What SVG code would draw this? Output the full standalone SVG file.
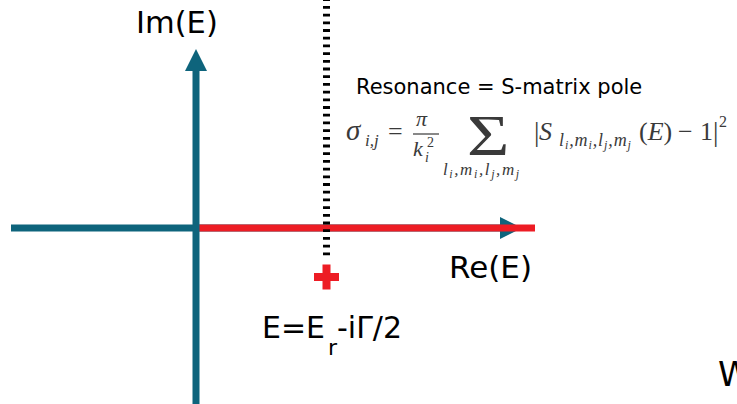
<svg xmlns="http://www.w3.org/2000/svg" width="737" height="404" viewBox="0 0 737 404">
<style>
.lbl{font-family:"DejaVu Sans",sans-serif;fill:#000}
.m{font-family:"Liberation Serif",serif;fill:#3a3a3a}
.mi{font-family:"Liberation Serif",serif;font-style:italic;fill:#3a3a3a}
</style>
<rect width="737" height="404" fill="#fff"/>
<g id="connectors">
<line id="re-axis" x1="11" y1="228" x2="505" y2="228" stroke="#0e647c" stroke-width="7"/>
<polygon id="re-arrow" points="500,217 522,228 500,239" fill="#0e647c"/>
<line id="real-line" x1="199" y1="228" x2="535" y2="228" stroke="#ed1c24" stroke-width="7"/>
<line id="im-axis" x1="196" y1="404" x2="196" y2="68" stroke="#0e647c" stroke-width="7"/>
<polygon id="im-arrow" points="196,49 185,71 207,71" fill="#0e647c"/>
<line id="dotted" x1="326.5" y1="0" x2="326.5" y2="257" stroke="#000" stroke-width="7" stroke-dasharray="2.8 4.9" stroke-dashoffset="1.7"/>
</g>
<g id="pole">
<rect x="314" y="273" width="25" height="8" fill="#ed1c24"/>
<rect x="322.5" y="264.5" width="8" height="25" fill="#ed1c24"/>
</g>
<g id="labels">
<text class="lbl" x="136" y="33" font-size="30.5">Im(E)</text>
<text class="lbl" x="449" y="278" font-size="31">Re(E)</text>
<text class="lbl" x="262" y="338" font-size="30">E=E<tspan x="328" dy="17" font-size="22">r</tspan><tspan dy="-17" x="337">-iΓ/2</tspan></text>
<text class="lbl" x="356" y="94" font-size="21">Resonance = S-matrix pole</text>
<text class="lbl" x="718" y="386" font-size="34">W</text>
</g>
<g id="formula">
<text class="mi" x="346" y="140" font-size="29">σ</text>
<text class="mi" x="365" y="146" font-size="17">i,j</text>
<text class="m" x="388" y="140" font-size="26">=</text>
<text class="mi" x="416" y="126" font-size="22">π</text>
<line x1="413" y1="134" x2="439" y2="134" stroke="#3a3a3a" stroke-width="1.2"/>
<text class="mi" x="413" y="156" font-size="22">k</text>
<text class="mi" x="425" y="162" font-size="14">i</text>
<text class="m" x="427" y="147" font-size="14">2</text>
<text class="m" x="0" y="0" font-size="56" transform="translate(467,155) scale(1.3,1)">Σ</text>
<text class="mi" x="443" y="175" font-size="17" letter-spacing="1.6">l<tspan font-size="12" dy="3">i</tspan><tspan dy="-3">,m</tspan><tspan font-size="12" dy="3">i</tspan><tspan dy="-3">,l</tspan><tspan font-size="12" dy="3">j</tspan><tspan dy="-3">,m</tspan><tspan font-size="12" dy="3">j</tspan></text>
<text class="m" x="534" y="141" font-size="27">|</text>
<text class="mi" x="539" y="140" font-size="26">S</text>
<text class="mi" x="559" y="146" font-size="18" letter-spacing="0.9">l<tspan font-size="12" dy="3">i</tspan><tspan dy="-3">,m</tspan><tspan font-size="12" dy="3">i</tspan><tspan dy="-3">,l</tspan><tspan font-size="12" dy="3">j</tspan><tspan dy="-3">,m</tspan><tspan font-size="12" dy="3">j</tspan></text>
<text class="m" x="639" y="140" font-size="26">(<tspan font-style="italic">E</tspan>)</text>
<text class="m" x="678" y="140" font-size="26">−</text>
<text class="m" x="700" y="140" font-size="26">1</text>
<text class="m" x="713" y="141" font-size="27">|</text>
<text class="m" x="719" y="127" font-size="16">2</text>
</g>
</svg>
